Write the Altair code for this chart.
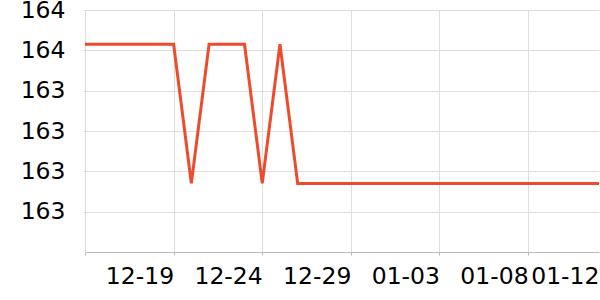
import altair as alt
import pandas as pd

dates = pd.date_range("2023-12-14", "2024-01-12", freq="D").strftime("%Y-%m-%d").tolist()
H, L = 163.63, 162.94
values = [H, H, H, H, H, H, L, H, H, H, L, H, L] + [L] * 17

df = pd.DataFrame({"date": dates, "value": values})

x_ticks = ["2023-12-14", "2023-12-19", "2023-12-24", "2023-12-29", "2024-01-03", "2024-01-08", "2024-01-12"]
x_tick_ms = [int(pd.Timestamp(d, tz="UTC").timestamp() * 1000) for d in x_ticks]
y_ticks = [162.8, 163.0, 163.2, 163.4, 163.6, 163.8]

first_ms = x_tick_ms[0]
last_ms = x_tick_ms[-1]

chart = alt.Chart(df).mark_line(color="#ee4a2c", strokeWidth=3).encode(
    x=alt.X(
        "date:T",
        timeUnit="utcyearmonthdate",
        scale=alt.Scale(domain=[x_ticks[0], x_ticks[-1]], nice=False),
        axis=alt.Axis(
            title=None,
            values=[alt.DateTime(year=int(d[:4]), month=int(d[5:7]), date=int(d[8:10]), utc=True) for d in x_ticks],
            labelExpr=f"datum.value == {first_ms} ? '' : utcFormat(datum.value, '%m-%d')",
            labelAlign="right",
            labelFlush=False,
            labelFontSize=23.5,
            labelFont="DejaVu Sans",
            labelColor="#000000",
            labelPadding=9,
            tickSize=3,
            tickColor="#bbbbbb",
            domainColor="#bbbbbb",
            gridColor="#dddddd",
            gridOpacity={"condition": {"test": f"datum.value == {last_ms}", "value": 0}, "value": 1},
            tickOpacity={"condition": {"test": f"datum.value == {last_ms}", "value": 0}, "value": 1},
            labelOverlap=False,
        ),
    ),
    y=alt.Y(
        "value:Q",
        scale=alt.Scale(domain=[162.6, 163.8], nice=False, zero=False),
        axis=alt.Axis(
            title=None,
            values=y_ticks,
            format=".0f",
            labelFontSize=23.5,
            labelFont="DejaVu Sans",
            labelColor="#000000",
            labelPadding=18,
            tickSize=2,
            tickColor="#dddddd",
            domainColor="#dddddd",
            gridColor="#dddddd",
            labelOverlap=False,
        ),
    ),
).properties(
    width=514,
    height=242,
    autosize=alt.AutoSizeParams(type="none"),
    padding={"left": 85, "top": 10, "right": 1, "bottom": 48},
).configure_view(stroke=None)

chart.save("out.html", embed_options={"renderer": "svg", "actions": False})
